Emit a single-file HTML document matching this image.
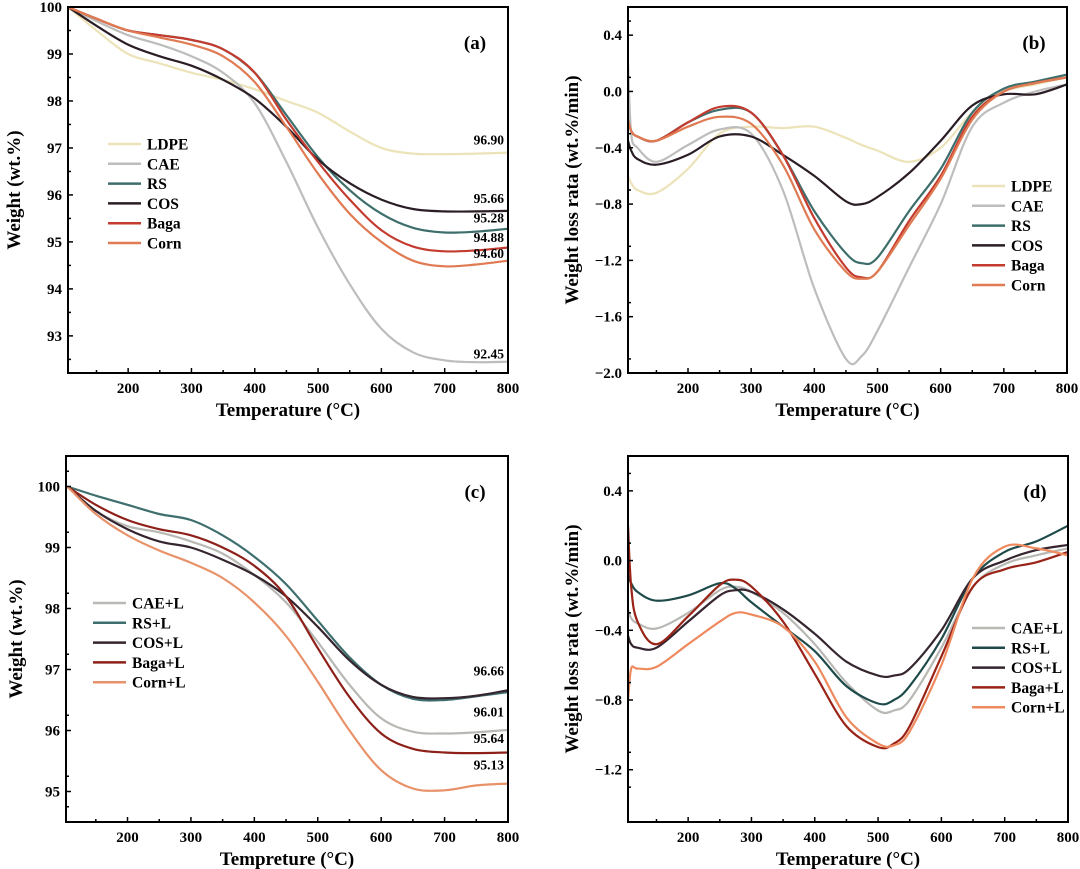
<!DOCTYPE html>
<html><head><meta charset="utf-8">
<style>
html,body{margin:0;padding:0;background:#fff;}
svg{display:block;font-family:"Liberation Serif",serif;font-weight:bold;}
</style></head>
<body>
<svg id="fig" width="1080" height="869" viewBox="0 0 1080 869" xmlns="http://www.w3.org/2000/svg"></svg>
<script>
// ---------- Panel (a) data ----------
const aTemps = [105,150,200,250,300,350,400,450,500,550,600,650,700,750,800];
const aLDPE = [100,99.5,99.0,98.8,98.6,98.45,98.25,98.0,97.75,97.35,97.0,96.88,96.87,96.88,96.9];
const aCAE  = [100,99.7,99.4,99.2,98.95,98.6,97.95,96.7,95.3,94.1,93.15,92.65,92.48,92.44,92.45];
const aRS   = [100,99.75,99.5,99.4,99.3,99.1,98.6,97.7,96.8,96.1,95.6,95.3,95.2,95.22,95.28];
const aCOS  = [100,99.6,99.2,98.95,98.75,98.45,98.05,97.45,96.75,96.25,95.9,95.7,95.65,95.65,95.66];
const aBaga = [100,99.75,99.5,99.4,99.3,99.1,98.6,97.6,96.7,95.9,95.25,94.9,94.8,94.82,94.88];
const aCorn = [100,99.75,99.5,99.35,99.2,98.95,98.4,97.45,96.45,95.6,95.0,94.6,94.48,94.52,94.6];
const aYTicks = [93,94,95,96,97,98,99,100];
const aEndLabels = ["96.90","95.66","95.28","94.88","94.60","92.45"];
const aEndValues = [97.18,95.94,95.52,95.1,94.76,92.62];
// ---------- Panel (b) data ----------
const bTemps = [105,110,120,150,200,250,300,350,400,450,475,500,550,600,650,700,750,800];
const bLDPE = [-0.6,-0.65,-0.7,-0.72,-0.55,-0.3,-0.25,-0.26,-0.25,-0.33,-0.38,-0.42,-0.5,-0.4,-0.15,0.0,0.05,0.1];
const bCAE  = [0.2,-0.3,-0.4,-0.5,-0.38,-0.27,-0.3,-0.7,-1.4,-1.9,-1.88,-1.7,-1.25,-0.8,-0.25,-0.08,0.0,0.05];
const bRS   = [-0.2,-0.28,-0.32,-0.35,-0.22,-0.13,-0.15,-0.45,-0.85,-1.15,-1.22,-1.18,-0.85,-0.55,-0.15,0.02,0.07,0.12];
const bCOS  = [-0.35,-0.42,-0.48,-0.52,-0.45,-0.32,-0.32,-0.45,-0.6,-0.78,-0.8,-0.75,-0.58,-0.35,-0.1,-0.02,-0.02,0.05];
const bBaga = [-0.2,-0.28,-0.32,-0.35,-0.22,-0.11,-0.15,-0.45,-0.9,-1.25,-1.32,-1.28,-0.92,-0.6,-0.18,0.0,0.06,0.1];
const bCorn = [-0.2,-0.28,-0.32,-0.35,-0.25,-0.18,-0.23,-0.52,-0.98,-1.28,-1.33,-1.28,-0.95,-0.62,-0.2,0.0,0.06,0.1];
const bYTicks = [-2.0,-1.6,-1.2,-0.8,-0.4,0.0,0.4];
// ---------- Panel (c) data ----------
const cTemps = [105,150,200,250,300,350,400,450,500,550,600,650,700,750,800];
const cCAE  = [100,99.6,99.35,99.25,99.1,98.9,98.55,98.1,97.45,96.75,96.2,95.98,95.95,95.97,96.01];
const cRS   = [100,99.85,99.7,99.55,99.45,99.2,98.85,98.4,97.8,97.2,96.75,96.52,96.5,96.56,96.63];
const cCOS  = [100,99.6,99.3,99.1,99.0,98.8,98.55,98.2,97.7,97.15,96.75,96.55,96.53,96.57,96.66];
const cBaga = [100,99.7,99.45,99.3,99.2,99.0,98.7,98.2,97.35,96.55,95.95,95.7,95.64,95.63,95.64];
const cCorn = [100,99.55,99.2,98.95,98.75,98.5,98.1,97.55,96.8,96.0,95.35,95.05,95.02,95.1,95.13];
const cYTicks = [95,96,97,98,99,100];
const cEndLabels = ["96.66","96.01","95.64","95.13"];
const cEndValues = [96.98,96.31,95.88,95.44];
// ---------- Panel (d) data ----------
const dTemps = [105,110,120,150,200,250,275,300,350,400,450,500,525,550,600,650,700,750,800];
const dCAE  = [-0.28,-0.33,-0.36,-0.39,-0.3,-0.17,-0.15,-0.18,-0.3,-0.48,-0.7,-0.86,-0.86,-0.8,-0.5,-0.15,-0.02,0.03,0.07];
const dRS   = [-0.08,-0.13,-0.18,-0.23,-0.2,-0.13,-0.16,-0.24,-0.38,-0.52,-0.72,-0.82,-0.8,-0.72,-0.45,-0.1,0.05,0.11,0.2];
const dCOS  = [-0.43,-0.48,-0.5,-0.5,-0.35,-0.2,-0.17,-0.18,-0.28,-0.42,-0.58,-0.66,-0.66,-0.62,-0.4,-0.1,0.0,0.06,0.09];
const dBaga = [0.2,-0.15,-0.35,-0.48,-0.32,-0.14,-0.11,-0.15,-0.35,-0.65,-0.95,-1.07,-1.05,-0.95,-0.55,-0.15,-0.05,-0.01,0.05];
const dCorn = [-0.8,-0.62,-0.62,-0.61,-0.48,-0.35,-0.3,-0.31,-0.38,-0.58,-0.9,-1.05,-1.06,-0.98,-0.6,-0.1,0.08,0.07,0.03];
const dYTicks = [-1.2,-0.8,-0.4,0.0,0.4];
const xTicks = [200,300,400,500,600,700,800];

const NS = "http://www.w3.org/2000/svg";
const svg = document.getElementById('fig');
function mk(tag, attrs, parent){
  const e = document.createElementNS(NS, tag);
  for (const k in attrs) e.setAttribute(k, attrs[k]);
  (parent||svg).appendChild(e);
  return e;
}
function smoothPath(pts){
  let d = "M"+pts[0][0].toFixed(1)+","+pts[0][1].toFixed(1);
  for (let i=0;i<pts.length-1;i++){
    const p0=pts[Math.max(0,i-1)], p1=pts[i], p2=pts[i+1], p3=pts[Math.min(pts.length-1,i+2)];
    const c1=[p1[0]+(p2[0]-p0[0])/6, p1[1]+(p2[1]-p0[1])/6];
    const c2=[p2[0]-(p3[0]-p1[0])/6, p2[1]-(p3[1]-p1[1])/6];
    d+=" C"+c1[0].toFixed(1)+","+c1[1].toFixed(1)+" "+c2[0].toFixed(1)+","+c2[1].toFixed(1)+" "+p2[0].toFixed(1)+","+p2[1].toFixed(1);
  }
  return d;
}

function panel(cfg){
  const g = mk('g', {});
  
  
  const X = v => cfg.L + (v - cfg.x0) / (cfg.x1 - cfg.x0) * (cfg.R - cfg.L);
  const Y = v => cfg.B - (v - cfg.y0) / (cfg.y1 - cfg.y0) * (cfg.B - cfg.T);
  const clip = mk('clipPath', {id: cfg.name + '-clip'}, g);
  mk('rect', {x: cfg.L, y: cfg.T, width: cfg.R - cfg.L, height: cfg.B - cfg.T}, clip);
  const lg = mk('g', {'clip-path': 'url(#' + cfg.name + '-clip)'}, g);
  cfg.series.forEach(s => {
    const pts = cfg.temps.map((t, i) => [X(t), Y(s.vals[i])]);
    const p = mk('path', {d: smoothPath(pts), fill: 'none', stroke: s.color, 'stroke-width': 2.2, 'stroke-linejoin': 'round'}, lg);
    
    
  });
  const fr = mk('rect', {x: cfg.L, y: cfg.T, width: cfg.R - cfg.L, height: cfg.B - cfg.T, fill: 'none', stroke: '#000', 'stroke-width': 2}, g);
  
  
  xTicks.forEach(t => {
    mk('line', {x1: X(t), x2: X(t), y1: cfg.B, y2: cfg.B - 5, stroke: '#000', 'stroke-width': 1.5}, g);
    mk('line', {x1: X(t - 50), x2: X(t - 50), y1: cfg.B, y2: cfg.B - 3, stroke: '#000', 'stroke-width': 1.5}, g);
    const tx = mk('text', {x: X(t), y: cfg.B + 20, 'text-anchor': 'middle', 'font-size': 15}, g);
    tx.textContent = t;
    
    
  });
  cfg.yTicks.forEach((t, i) => {
    mk('line', {x1: cfg.L, x2: cfg.L + 5, y1: Y(t), y2: Y(t), stroke: '#000', 'stroke-width': 1.5}, g);
    const m = t + cfg.yStep / 2;
    if (m < cfg.y1) mk('line', {x1: cfg.L, x2: cfg.L + 3, y1: Y(m), y2: Y(m), stroke: '#000', 'stroke-width': 1.5}, g);
    const m2 = t - cfg.yStep / 2;
    if (i === 0 && m2 > cfg.y0) mk('line', {x1: cfg.L, x2: cfg.L + 3, y1: Y(m2), y2: Y(m2), stroke: '#000', 'stroke-width': 1.5}, g);
    const tx = mk('text', {x: cfg.L - 6, y: Y(t) + 5, 'text-anchor': 'end', 'font-size': 15}, g);
    tx.textContent = cfg.yFmt(t);
    
    
  });
  const xt = mk('text', {x: (cfg.L + cfg.R) / 2, y: cfg.B + 43, 'text-anchor': 'middle', 'font-size': 19}, g);
  xt.textContent = cfg.xTitle;
  
  
  const yt = mk('text', {x: 0, y: 0, 'text-anchor': 'middle', 'font-size': 19, transform: 'translate(' + cfg.yTitleX + ',' + ((cfg.T + cfg.B) / 2) + ') rotate(-90)'}, g);
  yt.textContent = cfg.yTitle;
  
  
  const pl = mk('text', {x: cfg.R - 33, y: cfg.T + 42, 'text-anchor': 'middle', 'font-size': 19}, g);
  pl.textContent = cfg.label;
  
  
  cfg.series.forEach((s, i) => {
    const y = cfg.legY + i * cfg.legDy;
    const ln = mk('line', {x1: cfg.legX, x2: cfg.legX + 33, y1: y, y2: y, stroke: s.color, 'stroke-width': 2.5}, g);
    
    
    const tx = mk('text', {x: cfg.legX + 39, y: y + 5.5, 'font-size': 15.5}, g);
    tx.textContent = s.label;
    
    
  });
  (cfg.endLabels || []).forEach((lab, i) => {
    const tx = mk('text', {x: cfg.R - 4, y: Y(cfg.endValues[i]) + 5, 'text-anchor': 'end', 'font-size': 13.5}, g);
    tx.textContent = lab;
    
    
  });
}

const f0 = v => String(v);
const f1 = v => (v < 0 ? '\u2212' + Math.abs(v).toFixed(1) : v.toFixed(1));

panel({name:'panel-a', label:'(a)', L:68, R:508, T:7, B:373, x0:105, x1:800, y0:92.21, y1:100, yStep:1,
  temps:aTemps, yTicks:aYTicks, yFmt:f0, xTitle:'Temperature (\u00B0C)', yTitle:'Weight (wt.%)', yTitleX:20,
  legX:108, legY:144, legDy:19.8,
  endLabels:aEndLabels, endValues:aEndValues,
  series:[
    {key:'ldpe',label:'LDPE',color:'#ece3b9',vals:aLDPE},
    {key:'cae',label:'CAE',color:'#bdbdbb',vals:aCAE},
    {key:'rs',label:'RS',color:'#3d6e6b',vals:aRS},
    {key:'cos',label:'COS',color:'#2a1d25',vals:aCOS},
    {key:'baga',label:'Baga',color:'#c43b2f',vals:aBaga},
    {key:'corn',label:'Corn',color:'#e07a52',vals:aCorn}
  ]});

panel({name:'panel-b', label:'(b)', L:628, R:1067, T:7, B:373, x0:105, x1:800, y0:-2.0, y1:0.6, yStep:0.2,
  temps:bTemps, yTicks:bYTicks, yFmt:f1, xTitle:'Temperature (\u00B0C)', yTitle:'Weight loss rata (wt.%/min)', yTitleX:578,
  legX:972, legY:186, legDy:19.8,
  series:[
    {key:'ldpe',label:'LDPE',color:'#ece3b9',vals:bLDPE},
    {key:'cae',label:'CAE',color:'#bdbdbb',vals:bCAE},
    {key:'rs',label:'RS',color:'#3d6e6b',vals:bRS},
    {key:'cos',label:'COS',color:'#2a1d25',vals:bCOS},
    {key:'baga',label:'Baga',color:'#c43b2f',vals:bBaga},
    {key:'corn',label:'Corn',color:'#e07a52',vals:bCorn}
  ]});

panel({name:'panel-c', label:'(c)', L:66, R:508, T:456, B:822, x0:103, x1:800, y0:94.5, y1:100.5, yStep:0.5,
  temps:cTemps, yTicks:cYTicks, yFmt:f0, xTitle:'Tempreture (\u00B0C)', yTitle:'Weight (wt.%)', yTitleX:22,
  legX:93, legY:603, legDy:19.8,
  endLabels:cEndLabels, endValues:cEndValues,
  series:[
    {key:'cae-l',label:'CAE+L',color:'#b8b8b5',vals:cCAE},
    {key:'rs-l',label:'RS+L',color:'#3f6e6e',vals:cRS},
    {key:'cos-l',label:'COS+L',color:'#35252f',vals:cCOS},
    {key:'baga-l',label:'Baga+L',color:'#8e201a',vals:cBaga},
    {key:'corn-l',label:'Corn+L',color:'#e8926a',vals:cCorn}
  ]});

panel({name:'panel-d', label:'(d)', L:628, R:1068, T:456, B:822, x0:105, x1:800, y0:-1.5, y1:0.6, yStep:0.2,
  temps:dTemps, yTicks:dYTicks, yFmt:f1, xTitle:'Temperature (\u00B0C)', yTitle:'Weight loss rata (wt.%/min)', yTitleX:578,
  legX:972, legY:628, legDy:19.8,
  series:[
    {key:'cae-l',label:'CAE+L',color:'#b8b8b5',vals:dCAE},
    {key:'rs-l',label:'RS+L',color:'#1f4a4a',vals:dRS},
    {key:'cos-l',label:'COS+L',color:'#35252f',vals:dCOS},
    {key:'baga-l',label:'Baga+L',color:'#9a2317',vals:dBaga},
    {key:'corn-l',label:'Corn+L',color:'#ee8a5e',vals:dCorn}
  ]});
</script>
</body></html>
